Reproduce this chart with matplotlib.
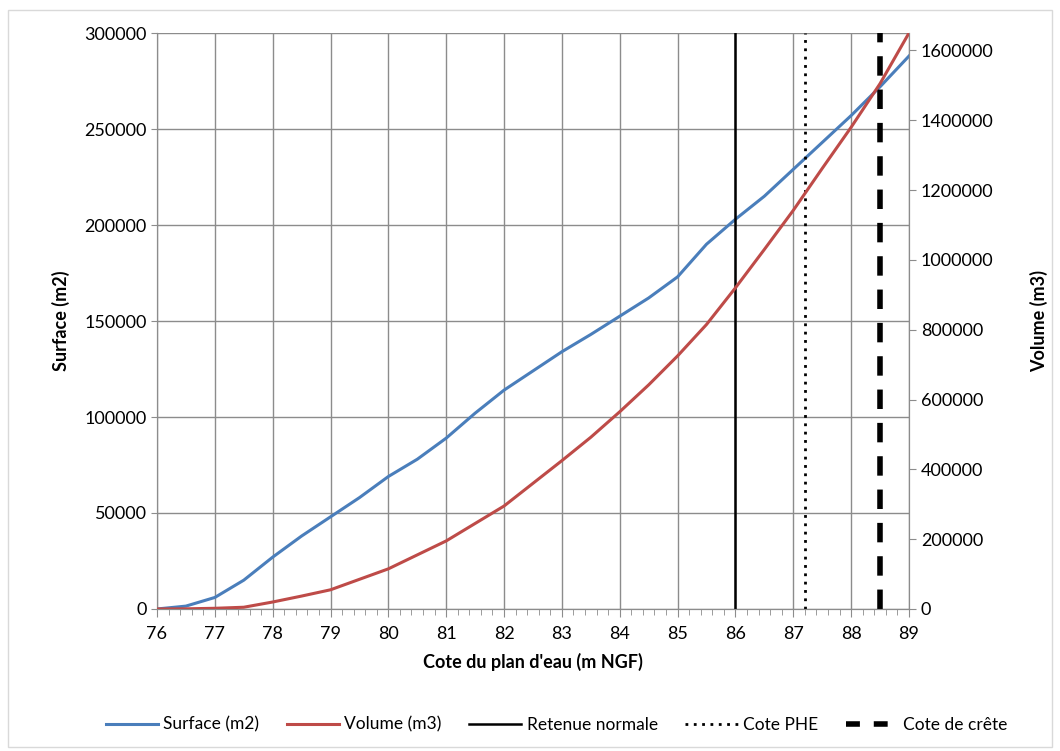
import matplotlib.pyplot as plt
from matplotlib.lines import Line2D
from matplotlib.ticker import MultipleLocator, FuncFormatter
from matplotlib.patches import Rectangle

plt.rcParams['font.family'] = ['Lato', 'DejaVu Sans']

# water level (m NGF)
cote = [76, 76.5, 77, 77.5, 78, 78.5, 79, 79.5, 80, 80.5, 81, 81.5, 82, 82.5,
        83, 83.5, 84, 84.5, 85, 85.5, 86, 86.5, 87, 87.5, 88, 88.5, 89]
surface = [0, 1500, 6000, 15000, 27000, 38000, 48000, 58000, 69000, 78000,
           89000, 102000, 114000, 124000, 134000, 143000, 152500, 162000,
           173000, 190000, 203000, 215000, 229000, 243000, 257000, 272000, 288000]
volume = [0, 500, 2000, 5000, 20000, 37000, 55000, 85000, 115000, 155000,
          195000, 245000, 295000, 360000, 425000, 492000, 565000, 642000,
          725000, 815000, 920000, 1030000, 1142000, 1262000, 1380000, 1505000, 1650000]

retenue_normale = 86.0
cote_phe = 87.2
cote_crete = 88.5

blue = '#4A7EBB'
red = '#BE4B48'
grid_col = '#8c8c8c'

fig = plt.figure(figsize=(10.6, 7.51), dpi=100)
fig.patches.append(Rectangle((0.008, 0.005), 0.984, 0.982, transform=fig.transFigure,
                             fill=False, edgecolor='#d9d9d9', linewidth=1.0))
ax = fig.add_axes([0.1481, 0.1891, 0.7094, 0.7669])
ax2 = ax.twinx()

ax.plot(cote, surface, color=blue, linewidth=2.2, zorder=3)
ax2.plot(cote, volume, color=red, linewidth=2.2, zorder=3)
ax2.axvline(retenue_normale, color='black', linewidth=1.8)
ax2.axvline(cote_phe, color='black', linewidth=2.0, linestyle=(0, (1, 2)))
ax2.axvline(cote_crete, color='black', linewidth=4.0, linestyle=(0, (3.5, 2.5)))

ax.set_xlim(76, 89)
ax.set_ylim(0, 300000)
ax2.set_ylim(0, 1650000)
ax.xaxis.set_major_locator(MultipleLocator(1))
ax.xaxis.set_minor_locator(MultipleLocator(0.2))
ax.yaxis.set_major_locator(MultipleLocator(50000))
ax2.yaxis.set_major_locator(MultipleLocator(200000))
plain = FuncFormatter(lambda v, p: '%d' % v)
ax.yaxis.set_major_formatter(plain)
ax2.yaxis.set_major_formatter(plain)

ax.grid(True, which='major', color=grid_col, linewidth=1.0)
ax.set_axisbelow(True)
for a in (ax, ax2):
    for s in a.spines.values():
        s.set_color(grid_col)
    a.spines['top'].set_visible(False)
ax.tick_params(axis='x', which='major', direction='out', length=6, color=grid_col,
               labelsize=13, pad=6)
ax.tick_params(axis='x', which='minor', direction='out', length=4, color=grid_col)
ax.tick_params(axis='y', direction='out', length=4, color=grid_col, labelsize=13)
ax2.tick_params(axis='y', direction='out', length=5, color=grid_col, labelsize=13)

ax.set_xlabel("Cote du plan d'eau (m NGF)", fontsize=13, fontweight='bold', labelpad=8)
ax.set_ylabel('Surface (m2)', fontsize=13, fontweight='bold', labelpad=10)
ax2.set_ylabel('Volume (m3)', fontsize=13, fontweight='bold', labelpad=26)

handles = [
    Line2D([], [], color=blue, linewidth=2.2),
    Line2D([], [], color=red, linewidth=2.2),
    Line2D([], [], color='black', linewidth=1.8),
    Line2D([], [], color='black', linewidth=2.0, linestyle=(0, (1, 2))),
    Line2D([], [], color='black', linewidth=4.0, linestyle=(0, (2.5, 2.5))),
]
labels = ['Surface (m2)', 'Volume (m3)', 'Retenue normale', 'Cote PHE', 'Cote de crête']
fig.legend(handles, labels, loc='center', bbox_to_anchor=(0.525, 0.035), ncol=5,
           frameon=False, fontsize=12.5, handlelength=3.0, handletextpad=0.3,
           columnspacing=1.6)

fig.savefig('out.png', dpi=100)
